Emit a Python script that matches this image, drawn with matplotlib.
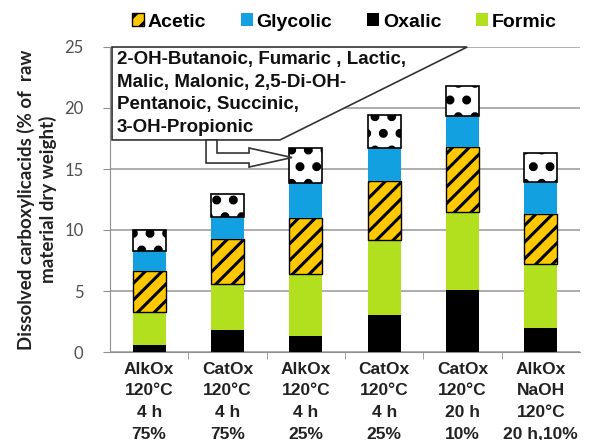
import matplotlib
matplotlib.use("Agg")
import matplotlib.pyplot as plt
from matplotlib.patches import Polygon
import numpy as np

# Dissolved carboxylic acids, % of raw material dry weight
conditions = ["AlkOx\n120°C\n4 h\n75%", "CatOx\n120°C\n4 h\n75%", "AlkOx\n120°C\n4 h\n25%",
              "CatOx\n120°C\n4 h\n25%", "CatOx\n120°C\n20 h\n10%", "AlkOx\nNaOH\n120°C\n20 h,10%"]
oxalic = [0.6, 1.8, 1.35, 3.05, 5.05, 1.95]
formic = [2.65, 3.75, 5.05, 6.15, 6.45, 5.3]
acetic = [3.35, 3.7, 4.6, 4.8, 5.3, 4.1]
glycolic = [1.7, 1.8, 2.85, 2.7, 2.55, 2.6]
others = [1.7, 1.9, 2.9, 2.7, 2.45, 2.35]
others_text = "2-OH-Butanoic, Fumaric , Lactic,\nMalic, Malonic, 2,5-Di-OH-\nPentanoic, Succinic,\n3-OH-Propionic"

plt.rcParams['hatch.linewidth'] = 2.2

fig = plt.figure(figsize=(5.93, 4.40), dpi=100)
ax = fig.add_axes([110 / 593, 88 / 440, 470 / 593, 305 / 440])

x = np.arange(len(conditions))
w = 0.42
bottom = np.zeros(len(x))
ax.bar(x, oxalic, w, bottom=bottom, color="black", label="Oxalic", zorder=3)
bottom += oxalic
ax.bar(x, formic, w, bottom=bottom, color="#b2e01e", label="Formic", zorder=3)
bottom += formic
ax.bar(x, acetic, w, bottom=bottom, color="#ffc800", edgecolor="black", hatch="//",
       linewidth=1, label="Acetic", zorder=3)
bottom += acetic
ax.bar(x, glycolic, w, bottom=bottom, color="#12a0e0", label="Glycolic", zorder=3)
bottom += glycolic
with plt.rc_context({'hatch.linewidth': 4.0}):
    ax.bar(x, others, w, bottom=bottom, color="white", edgecolor="black", hatch=".",
           linewidth=1.2, zorder=3)

ax.set_ylim(0, 25)
ax.set_xlim(-0.5, len(x) - 0.5)
ax.set_yticks([0, 5, 10, 15, 20, 25])
ax.yaxis.grid(True, color="#a0a0a0", linewidth=1.2, zorder=0)
for s in ["top", "right"]:
    ax.spines[s].set_visible(False)
for s in ["left", "bottom"]:
    ax.spines[s].set_color("#909090")
ax.tick_params(axis="y", colors="#909090", labelcolor="#505050", length=5, labelsize=12, pad=14)
for lab in ax.get_yticklabels():
    lab.set_family("Lato")
ax.set_xticks(x)
ax.set_xticklabels(conditions, fontsize=12.5, fontweight="bold", family="Liberation Sans",
                   linespacing=1.55, color="#222222")
ax.tick_params(axis="x", length=0, pad=7)
ax.set_xticks(x[:-1] + 0.5, minor=True)
ax.tick_params(axis="x", which="minor", length=5, colors="#909090")

ax.set_ylabel("Dissolved carboxylicacids (% of  raw\nmaterial dry weight)", fontsize=13.5,
              fontweight="bold", family="Lato", linespacing=1.3, color="#222222", labelpad=5)

# callout box with the minor acids
callout = Polygon([(-0.474, 25), (4.06, 25), (1.67, 17.38), (-0.474, 17.38)], closed=True,
                  facecolor="white", edgecolor="#333333", linewidth=1.2, zorder=4, clip_on=False)
ax.add_patch(callout)
ax.text(-0.41, 24.65, others_text, fontsize=13.5, fontweight="bold", family="Liberation Sans",
        va="top", ha="left", linespacing=1.42, zorder=5, color="#111111")
arrow = Polygon([(0.726, 17.38), (0.726, 15.49), (1.275, 15.49), (1.275, 15.16), (1.823, 15.94),
                 (1.275, 16.72), (1.275, 16.31), (0.866, 16.31), (0.866, 17.38)], closed=True,
                facecolor="white", edgecolor="#333333", linewidth=1.2, zorder=4)
ax.add_patch(arrow)

handles, labels = ax.get_legend_handles_labels()
order = [labels.index(n) for n in ["Acetic", "Glycolic", "Oxalic", "Formic"]]
fig.legend([handles[i] for i in order], [labels[i] for i in order], loc="center",
           bbox_to_anchor=(0.581, 0.95), ncol=4, frameon=False, handlelength=0.6, handleheight=0.6,
           handletextpad=0.2, columnspacing=1.8,
           prop={"family": "Liberation Sans", "weight": "bold", "size": 14})

fig.savefig("out.png", dpi=100)
